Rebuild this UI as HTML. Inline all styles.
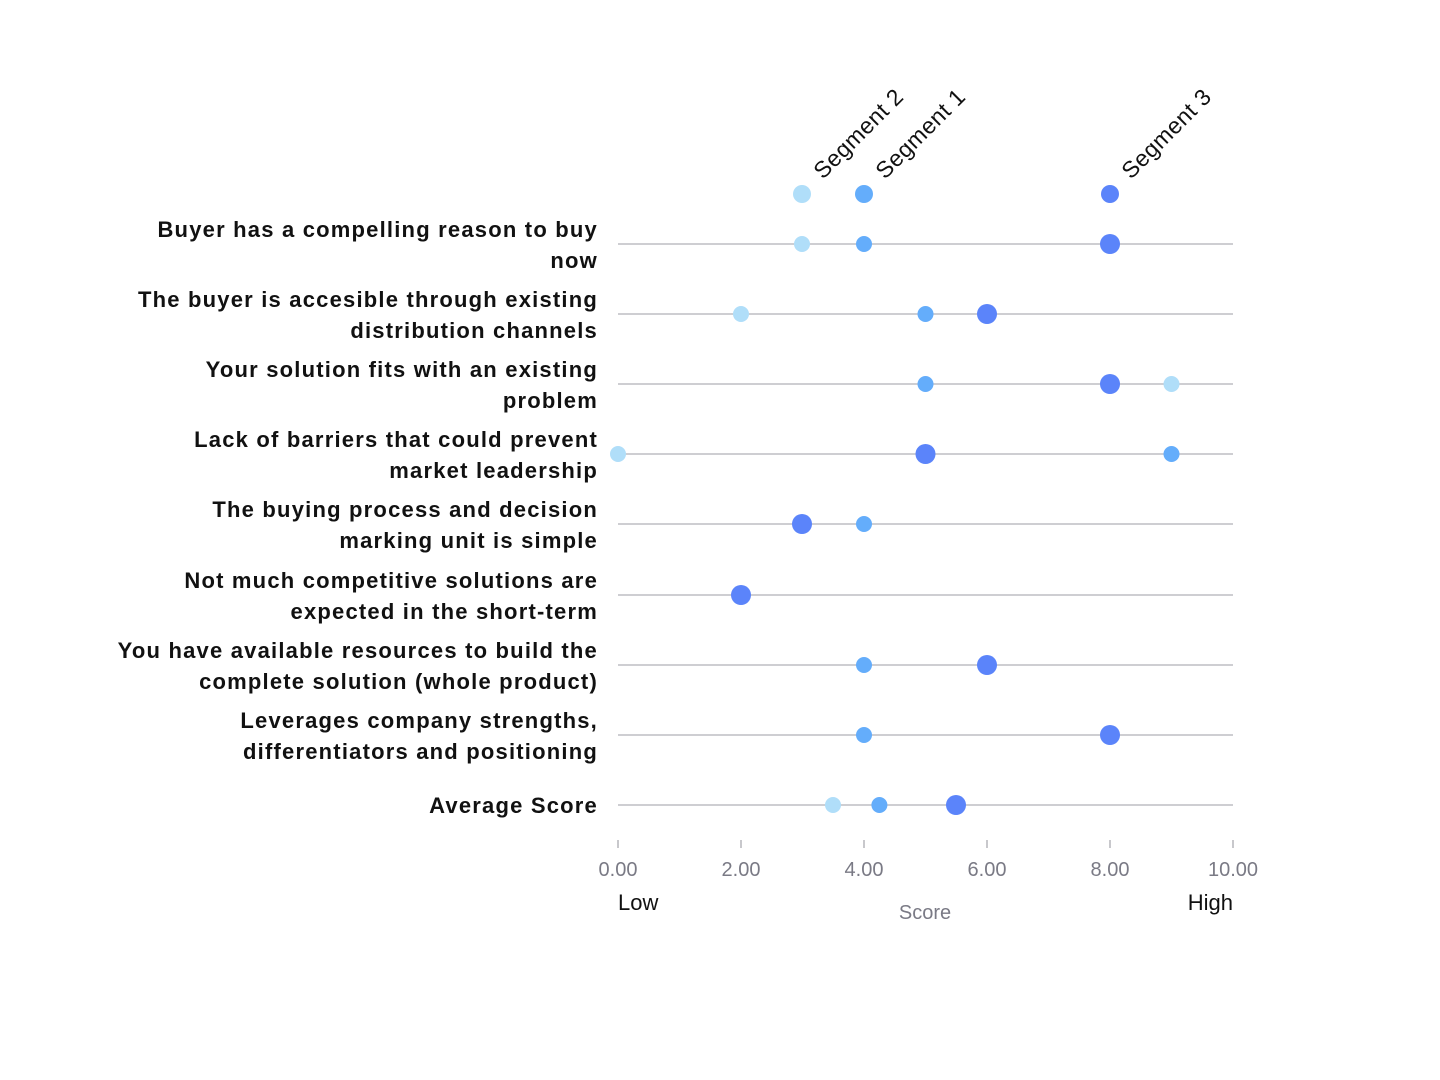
<!DOCTYPE html>
<html><head><meta charset="utf-8"><style>
html,body{margin:0;padding:0;background:#fff;}
svg{display:block;}
text{font-family:"Liberation Sans",sans-serif;}
.lab{font-size:22px;fill:#111;text-anchor:end;font-weight:bold;letter-spacing:1.2px;}
.tk{font-size:20px;fill:#7a7a85;text-anchor:middle;}
</style></head><body>
<svg width="1440" height="1080" viewBox="0 0 1440 1080">
<g stroke="#bdbdc3" stroke-width="1.5">
<line x1="618" y1="244" x2="1233" y2="244"/>
<line x1="618" y1="314" x2="1233" y2="314"/>
<line x1="618" y1="384" x2="1233" y2="384"/>
<line x1="618" y1="454" x2="1233" y2="454"/>
<line x1="618" y1="524" x2="1233" y2="524"/>
<line x1="618" y1="595" x2="1233" y2="595"/>
<line x1="618" y1="665" x2="1233" y2="665"/>
<line x1="618" y1="735" x2="1233" y2="735"/>
<line x1="618" y1="805" x2="1233" y2="805"/>
</g>
<g stroke="#c8c8cc" stroke-width="2">
<line x1="618" y1="840" x2="618" y2="848"/>
<line x1="741" y1="840" x2="741" y2="848"/>
<line x1="864" y1="840" x2="864" y2="848"/>
<line x1="987" y1="840" x2="987" y2="848"/>
<line x1="1110" y1="840" x2="1110" y2="848"/>
<line x1="1233" y1="840" x2="1233" y2="848"/>
</g>
<g class="tk">
<text x="618" y="876">0.00</text><text x="741" y="876">2.00</text><text x="864" y="876">4.00</text>
<text x="987" y="876">6.00</text><text x="1110" y="876">8.00</text><text x="1233" y="876">10.00</text>
<text x="925" y="919">Score</text>
</g>
<text x="618" y="910" font-size="22" fill="#111">Low</text>
<text x="1233" y="910" font-size="22" fill="#111" text-anchor="end">High</text>

<g class="lab">
<text x="598" y="237">Buyer has a compelling reason to buy</text><text x="598" y="268">now</text>
<text x="598" y="307">The buyer is accesible through existing</text><text x="598" y="338">distribution channels</text>
<text x="598" y="377">Your solution fits with an existing</text><text x="598" y="408">problem</text>
<text x="598" y="447">Lack of barriers that could prevent</text><text x="598" y="478">market leadership</text>
<text x="598" y="517">The buying process and decision</text><text x="598" y="548">marking unit is simple</text>
<text x="598" y="588">Not much competitive solutions are</text><text x="598" y="619">expected in the short-term</text>
<text x="598" y="658">You have available resources to build the</text><text x="598" y="689">complete solution (whole product)</text>
<text x="598" y="728">Leverages company strengths,</text><text x="598" y="759">differentiators and positioning</text>
<text x="598" y="813">Average Score</text>
</g>

<circle cx="802" cy="194" r="9" fill="#b0def9"/>
<circle cx="864" cy="194" r="9" fill="#64adfb"/>
<circle cx="1110" cy="194" r="9" fill="#5b84fa"/>
<g font-size="23" fill="#111" letter-spacing="0.5">
<text transform="translate(823,180) rotate(-45)">Segment 2</text>
<text transform="translate(885,180) rotate(-45)">Segment 1</text>
<text transform="translate(1131,180) rotate(-45)">Segment 3</text>
</g>

<g fill="#b0def9">
<circle cx="802" cy="244" r="8"/>
<circle cx="741" cy="314" r="8"/>
<circle cx="1171.5" cy="384" r="8"/>
<circle cx="618" cy="454" r="8"/>
<circle cx="833" cy="805" r="8"/>
</g>
<g fill="#64adfb">
<circle cx="864" cy="244" r="8"/>
<circle cx="925.5" cy="314" r="8"/>
<circle cx="925.5" cy="384" r="8"/>
<circle cx="1171.5" cy="454" r="8"/>
<circle cx="864" cy="524" r="8"/>
<circle cx="864" cy="665" r="8"/>
<circle cx="864" cy="735" r="8"/>
<circle cx="879.4" cy="805" r="8"/>
</g>
<g fill="#5b84fa">
<circle cx="1110" cy="244" r="10"/>
<circle cx="987" cy="314" r="10"/>
<circle cx="1110" cy="384" r="10"/>
<circle cx="925.5" cy="454" r="10"/>
<circle cx="802" cy="524" r="10"/>
<circle cx="741" cy="595" r="10"/>
<circle cx="987" cy="665" r="10"/>
<circle cx="1110" cy="735" r="10"/>
<circle cx="956" cy="805" r="10"/>
</g>
</svg>
</body></html>
